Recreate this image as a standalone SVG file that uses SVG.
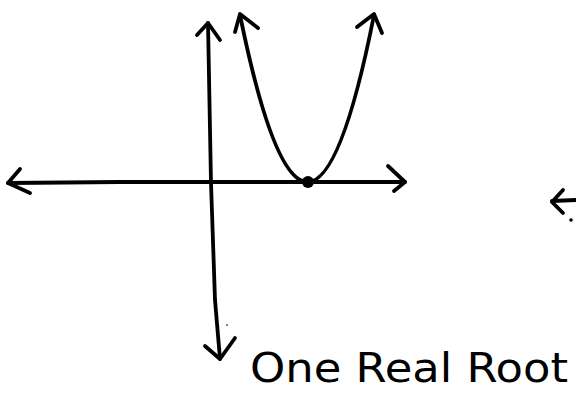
<svg xmlns="http://www.w3.org/2000/svg" width="576" height="393" viewBox="0 0 576 393">
<style>
.ink{fill:none;stroke:#000;stroke-width:3.8;stroke-linecap:round;stroke-linejoin:round}
.lbl{font-family:"DejaVu Sans","Liberation Sans",sans-serif;font-size:40px;fill:#000}
</style>
<rect width="576" height="393" fill="#fff"/>
<g id="connectors">
<g id="x-axis">
<path class="ink" d="M8,183 L120,182 L300,182 L405,182"/>
<path class="ink" d="M20,169 L8,183 L30,193"/>
<path class="ink" d="M388,166 L405,182 L394,191"/>
</g>
<g id="y-axis">
<path class="ink" d="M208,23 L211,183 L215,300 L220,359"/>
<path class="ink" d="M197,35 L208,23 L220,40"/>
<path class="ink" d="M205,346 L220,359 L235,338"/>
</g>
<g id="side-arrow">
<path class="ink" d="M552,201 L576,200"/>
<path class="ink" d="M563,190 L552,202 L563,213"/>
<circle cx="571" cy="220" r="1.8" fill="#000"/>
</g>
</g>
<g id="parabola">
<path class="ink" d="M240,15 Q308,349 374,15" stroke-width="4.5"/>
<path class="ink" d="M235,32 L240,14 L258,28"/>
<path class="ink" d="M357,27 L374,14 L382,33"/>
</g>
<g id="root">
<circle cx="308" cy="182" r="6" fill="#000"/>
</g>
<circle cx="227" cy="325" r="0.9" fill="#444"/>
<g id="label">
<text class="lbl" x="250" y="382" textLength="318" lengthAdjust="spacingAndGlyphs">One Real Root</text>
</g>
</svg>
